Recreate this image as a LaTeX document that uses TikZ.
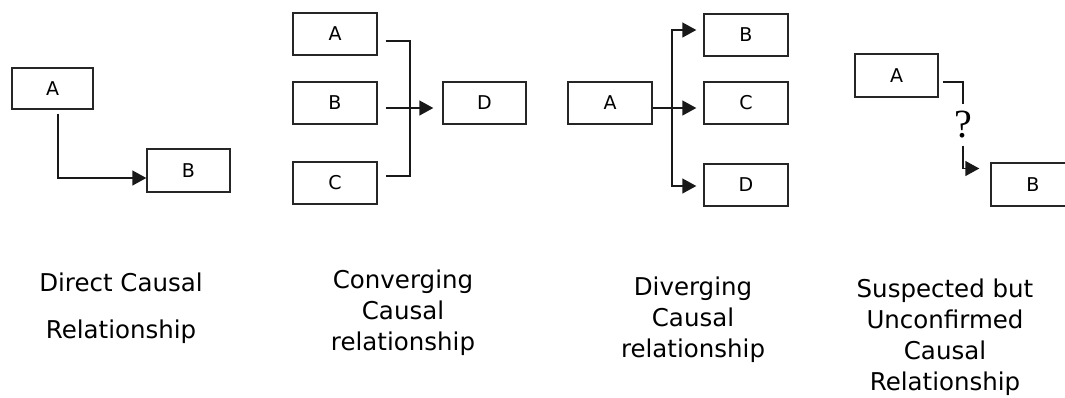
\documentclass[tikz,border=0pt]{standalone}
\usepackage{fontspec}
\setmainfont{DejaVu Sans}
\newfontfamily\qfont{Liberation Serif}
\usetikzlibrary{arrows.meta}
\begin{document}
\begin{tikzpicture}[x=1pt,y=-1pt,
  box/.style={draw=black!85,line width=1.4pt,minimum width=84pt,minimum height=42pt,
    inner sep=0pt,font=\fontsize{19}{22}\selectfont},
  wire/.style={draw=black!90,line width=1.4pt},
  arr/.style={wire,-{Triangle[length=14pt,width=15pt]}},
  caption/.style={align=center,anchor=north,inner sep=0pt,
    font=\fontsize{24.5}{31}\selectfont}]
\useasboundingbox (0,0) rectangle (1065,397);

% Direct causal relationship
\node[box,minimum width=81pt,minimum height=41pt] (p1a) at (52.5,88.5) {A};
\node[box,minimum width=83pt,minimum height=43pt] (p1b) at (188.5,170.5) {B};
\draw[arr] ([xshift=5.5pt,yshift=-4pt]p1a.south) |- ([yshift=-7.5pt]p1b.west);

% Converging causal relationship
\node[box] (p2a) at (335,34) {A};
\node[box] (p2b) at (335,103) {B};
\node[box] (p2c) at (335,183) {C};
\node[box,minimum width=83pt] (p2d) at (484.5,103) {D};
\coordinate (join) at (410,108);
\draw[wire] ([xshift=8pt,yshift=-7pt]p2a.east) -| (join) |- ([xshift=8pt,yshift=7pt]p2c.east);
\draw[arr] ([xshift=8pt,yshift=-5pt]p2b.east) -- ([xshift=-9pt,yshift=-5pt]p2d.west);

% Diverging causal relationship
\node[box] (p3a) at (610,103) {A};
\node[box] (p3b) at (746,35) {B};
\node[box] (p3c) at (746,103) {C};
\node[box] (p3d) at (746,185) {D};
\coordinate (split) at (672,108);
\draw[wire] ([yshift=-5pt]p3a.east) -- (split);
\draw[arr] (split) |- ([xshift=-7pt,yshift=5pt]p3b.west);
\draw[arr] (split) -- ([xshift=-7pt,yshift=-5pt]p3c.west);
\draw[arr] (split) |- ([xshift=-7pt,yshift=-1pt]p3d.west);

% Suspected but unconfirmed causal relationship
\node[box,minimum width=83pt,minimum height=43pt] (p4a) at (896.5,75.5) {A};
\node[box,minimum height=43pt] (p4b) at (1033,184.5) {B};
\node[inner sep=0pt,minimum height=41pt,font=\qfont\fontsize{40}{40}\selectfont] (q) at (963,125) {?};
\draw[wire] ([xshift=4pt,yshift=-6.5pt]p4a.east) -| (q.north);
\draw[arr] (q.south) |- ([xshift=-11pt,yshift=16pt]p4b.west);

% Captions
\node[caption] (c1) at (121,273) {Direct Causal\\[16pt]Relationship};
\node[caption] (c2) at (403,269.5) {Converging\\Causal\\relationship};
\node[caption] (c3) at (693,276.5) {Diverging\\Causal\\relationship};
\node[caption] (c4) at (945,278.5) {Suspected but\\Unconfirmed\\Causal\\Relationship};
\end{tikzpicture}
\end{document}
